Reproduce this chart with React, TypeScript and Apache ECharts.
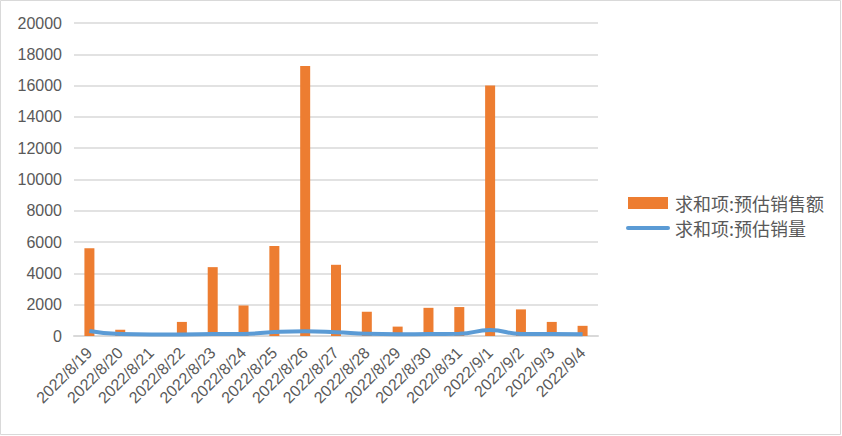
import React, { useEffect, useRef } from "react";
import * as echarts from "echarts";

const categories = [
  "2022/8/19", "2022/8/20", "2022/8/21", "2022/8/22", "2022/8/23", "2022/8/24",
  "2022/8/25", "2022/8/26", "2022/8/27", "2022/8/28", "2022/8/29", "2022/8/30",
  "2022/8/31", "2022/9/1", "2022/9/2", "2022/9/3", "2022/9/4",
];
const salesAmount = [5600, 400, 0, 900, 4400, 1950, 5750, 17250, 4550, 1550, 600, 1800, 1850, 16000, 1700, 900, 650];
const salesVolume = [320, 120, 100, 100, 120, 130, 250, 300, 240, 140, 110, 130, 140, 380, 130, 120, 110];
const seriesNames = ["求和项:预估销售额", "求和项:预估销量"];

export default function App() {
  const ref = useRef<HTMLDivElement>(null);
  useEffect(() => {
    document.body.style.margin = "0";
    const chart = echarts.init(ref.current!, null, { renderer: "svg" });
    chart.setOption({
      animation: false,
      backgroundColor: "#ffffff",
      graphic: [
        {
          type: "rect",
          shape: { x: 0.5, y: 0.5, width: 840, height: 434 },
          style: { fill: "none", stroke: "#D9D9D9", lineWidth: 1 },
          silent: true,
        },
      ],
      grid: { left: 74, right: 244, top: 23, bottom: 100 },
      legend: {
        left: 621,
        top: 189,
        orient: "vertical",
        itemGap: 7,
        itemWidth: 40,
        itemHeight: 12,
        textStyle: { color: "#595959", fontSize: 18, fontFamily: "Noto Sans CJK SC", padding: [0, 0, 0, 2] },
        data: [
          { name: seriesNames[0], icon: "rect" },
          {
            name: seriesNames[1],
            itemStyle: { opacity: 0 },
            lineStyle: { width: 4, color: "#5B9BD5", cap: "round" },
          },
        ],
      },
      xAxis: {
        type: "category",
        data: categories,
        axisLine: { lineStyle: { color: "#D9D9D9", width: 2 } },
        axisTick: { show: false },
        axisLabel: {
          rotate: 45,
          interval: 0,
          color: "#595959",
          fontSize: 16,
          fontFamily: "Liberation Sans, Arial",
          margin: 14,
        },
      },
      yAxis: {
        type: "value",
        min: 0,
        max: 20000,
        interval: 2000,
        axisLine: { show: false },
        axisTick: { show: false },
        splitLine: { lineStyle: { color: "#D9D9D9", width: 1.5 } },
        axisLabel: {
          color: "#595959",
          fontSize: 16,
          fontFamily: "Liberation Sans, Arial",
          margin: 12,
          formatter: (v: number) => String(v),
        },
      },
      series: [
        {
          name: seriesNames[0],
          type: "bar",
          data: salesAmount,
          barWidth: 10,
          itemStyle: { color: "#ED7D31" },
        },
        {
          name: seriesNames[1],
          type: "line",
          data: salesVolume,
          smooth: true,
          symbol: "none",
          z: 5,
          lineStyle: { color: "#5B9BD5", width: 4 },
          itemStyle: { color: "#5B9BD5" },
        },
      ],
    });
    return () => chart.dispose();
  }, []);
  return <div ref={ref} style={{ width: 842, height: 436 }} />;
}
